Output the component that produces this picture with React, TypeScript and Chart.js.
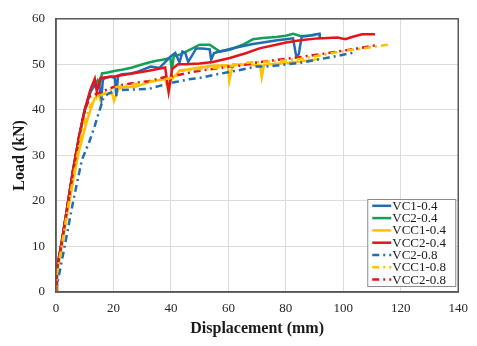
import React, { useEffect, useRef } from "react";
import { Chart, registerables } from "chart.js";

Chart.register(...registerables);

// ---- Data (displacement in mm, load in kN) ----
const seriesNames = ["VC1-0.4", "VC2-0.4", "VCC1-0.4", "VCC2-0.4", "VC2-0.8", "VCC1-0.8", "VCC2-0.8"];

const vc1_04_d = [0, 0.3, 2, 4, 6, 8, 10, 12, 13, 14, 15, 15.8, 16.3, 17, 19, 20.5, 21, 21.6, 23, 26, 28, 30, 33, 36, 38, 40, 41.5, 43, 44, 45, 46, 48.8, 51, 53.5, 54, 55, 57, 62, 68, 72, 77, 80, 82.5, 83.6, 84.5, 85.5, 88, 91.7, 91.8];
const vc1_04_l = [0, 5, 11, 19, 27, 34, 40, 44, 45, 45.5, 45.5, 42.6, 46.5, 47, 47.3, 47, 43, 47.5, 47.8, 48, 48.3, 48.8, 49.5, 49.2, 50.5, 51.8, 52.5, 50.4, 52.8, 52.5, 50.5, 53.5, 53.5, 53.3, 51, 52.5, 52.8, 53.6, 54.4, 54.8, 55.3, 55.5, 55.7, 51.8, 52.2, 56.1, 56.3, 56.7, 55.8];

const vc2_04_d = [0, 0.3, 2, 4, 6, 8, 10, 12, 13.5, 14.5, 15.2, 16, 18, 20.7, 23, 26.5, 29, 32.3, 35, 38, 39.8, 40.3, 41, 43, 46.5, 50, 53.5, 57, 60.5, 65, 68.5, 72, 76.6, 80, 82.5, 84.8, 87, 90.5];
const vc2_04_l = [0, 5, 11, 19, 27, 34, 40, 44, 45.5, 46.5, 45.5, 48, 48.2, 48.6, 48.8, 49.3, 49.8, 50.4, 50.8, 51.1, 51.5, 48.6, 51.8, 52.1, 53.2, 54.3, 54.3, 52.8, 53.2, 54.3, 55.5, 55.8, 56, 56.3, 56.7, 56.3, 56.2, 56.5];

const vcc1_04_d = [0, 0.3, 2, 4, 6, 8, 10.7, 12, 13.5, 15, 15.6, 16, 17, 19.5, 20.2, 21.8, 24, 27.5, 32.3, 38, 39.2, 40, 41.5, 43, 50, 54.6, 59.8, 60.3, 61.6, 66, 71, 71.6, 72.4, 76, 80, 85, 91.7];
const vcc1_04_l = [0, 4, 10, 17.5, 24.5, 31, 37.4, 40, 42.6, 43.3, 41.8, 43.6, 43.5, 43.6, 42, 44.7, 45, 45, 46.1, 46.8, 44, 46.5, 47.5, 48.6, 49.3, 49.7, 49.8, 46.4, 50, 49.9, 49.8, 47.2, 49.9, 50.1, 50.3, 50.6, 51.2];

const vcc2_04_d = [0, 0.3, 2, 4, 6, 8, 10, 12, 13.5, 14.2, 15.5, 20.7, 26.5, 32.3, 38, 39.2, 40.4, 42.5, 45, 50, 54.6, 60.5, 66.3, 70.8, 76.6, 80, 85, 91, 98, 100.7, 103, 106.5, 111];
const vcc2_04_l = [0, 5, 11, 19, 27, 34, 40, 44.5, 46.8, 44, 47, 47.4, 48, 48.6, 49.3, 44, 49, 50, 50, 50.2, 50.5, 51.4, 52.5, 53.5, 54.3, 54.8, 55.3, 55.7, 55.9, 55.5, 56, 56.6, 56.6];

const vc2_08_d = [0, 0.5, 3, 6, 9, 11.6, 13.5, 15, 16.5, 18, 20.7, 25, 32.3, 38, 41.5, 47, 50, 56, 62.7, 69.7, 73, 84.8, 95, 103, 104.5];
const vc2_08_l = [0, 2, 10, 20, 29, 33, 36.5, 39.6, 42.5, 43.5, 44.3, 44.4, 44.6, 45.6, 46.1, 46.8, 47, 47.8, 48.6, 49.5, 49.5, 50.3, 51.5, 52.5, 52.7];

const vcc1_08_d = [0, 0.3, 2, 4, 6, 8, 10, 12, 14, 16, 18, 20.7, 26, 32.3, 38, 41.5, 43, 50, 55, 60, 67.2, 77, 84.8, 95, 102, 110, 116.8];
const vcc1_08_l = [0, 4, 10, 18, 25, 32, 37.5, 41, 42.5, 43.3, 44, 45, 45.5, 46.1, 46.8, 47.2, 48.6, 49, 49.2, 49.5, 50.4, 50.7, 51.2, 52.3, 53.1, 53.8, 54.4];

const vcc2_08_d = [0, 0.3, 2, 4, 6, 8, 10, 12, 14, 16, 18, 20.7, 26, 32.3, 38, 41.5, 45, 50, 55, 60, 64, 69.7, 77, 84, 91.7, 100, 106, 111.5];
const vcc2_08_l = [0, 5, 11, 19, 27, 34, 40, 43, 43.5, 44, 44.5, 45.2, 45.8, 46.3, 47.2, 47.5, 48, 48.6, 49, 49.5, 49.7, 50.4, 51, 51.5, 52.2, 53, 53.6, 54.2];

const xTicks = [0, 20, 40, 60, 80, 100, 120, 140];
const yTicks = [0, 10, 20, 30, 40, 50, 60];

const BLUE = "#1f6db3";
const GREEN = "#13a055";
const YELLOW = "#ffc000";
const RED = "#e3141c";
const DASH = [7, 4, 2, 4];
const FONT = "'Liberation Serif', 'Times New Roman', serif";

const seriesDefs = [
  { d: vc1_04_d, l: vc1_04_l, color: BLUE, dash: [] as number[] },
  { d: vc2_04_d, l: vc2_04_l, color: GREEN, dash: [] as number[] },
  { d: vcc1_04_d, l: vcc1_04_l, color: YELLOW, dash: [] as number[] },
  { d: vcc2_04_d, l: vcc2_04_l, color: RED, dash: [] as number[] },
  { d: vc2_08_d, l: vc2_08_l, color: BLUE, dash: DASH },
  { d: vcc1_08_d, l: vcc1_08_l, color: YELLOW, dash: DASH },
  { d: vcc2_08_d, l: vcc2_08_l, color: RED, dash: DASH },
];

const frameLegendPlugin = {
  id: "frameLegend",
  afterDraw(chart: any) {
    const ctx = chart.ctx;
    const a = chart.chartArea;
    ctx.save();
    // plot frame
    ctx.strokeStyle = "#595959";
    ctx.lineWidth = 1.5;
    ctx.setLineDash([]);
    ctx.strokeRect(a.left, a.top, a.right - a.left, a.bottom - a.top);
    // legend box
    const w = 88;
    const h = 87;
    const lx = a.right - 91;
    const ly = a.bottom - 93;
    ctx.fillStyle = "#ffffff";
    ctx.fillRect(lx, ly, w, h);
    ctx.strokeStyle = "#8c8c8c";
    ctx.lineWidth = 1;
    ctx.strokeRect(lx + 0.5, ly + 0.5, w, h);
    ctx.font = `13px ${FONT}`;
    ctx.textBaseline = "middle";
    ctx.textAlign = "left";
    chart.data.datasets.forEach((ds: any, i: number) => {
      const cy = ly + 6.8 + i * 12.3;
      ctx.strokeStyle = ds.borderColor;
      ctx.lineWidth = 2.5;
      ctx.setLineDash(ds.borderDash || []);
      ctx.beginPath();
      ctx.moveTo(lx + 5, cy);
      ctx.lineTo(lx + 24, cy);
      ctx.stroke();
      ctx.setLineDash([]);
      ctx.fillStyle = "#1a1a1a";
      ctx.fillText(ds.label, lx + 25, cy + 0.5);
    });
    ctx.restore();
  },
};

export default function App() {
  const canvasRef = useRef<HTMLCanvasElement | null>(null);

  useEffect(() => {
    document.body.style.margin = "0";
    const canvas = canvasRef.current;
    if (!canvas) return;
    const datasets = seriesDefs.map((s, i) => ({
      label: seriesNames[i],
      data: s.d.map((x, k) => ({ x, y: s.l[k] })),
      borderColor: s.color,
      backgroundColor: s.color,
      borderWidth: 2.5,
      borderDash: s.dash,
      pointRadius: 0,
      tension: 0,
      fill: false,
    }));
    const drawOrder = [4, 5, 6, 2, 3, 0, 1];
    datasets.forEach((ds: any, i) => (ds.order = drawOrder[i]));

    const chart = new Chart(canvas, {
      type: "line",
      data: { datasets },
      plugins: [frameLegendPlugin],
      options: {
        responsive: false,
        animation: false,
        layout: { padding: { top: 11, right: 18, left: 0, bottom: 0 } },
        plugins: { legend: { display: false }, tooltip: { enabled: false } },
        scales: {
          x: {
            type: "linear",
            min: 0,
            max: 140,
            afterBuildTicks: (scale: any) => {
              scale.ticks = xTicks.map((v) => ({ value: v }));
            },
            afterFit: (scale: any) => {
              scale.height = 54;
            },
            grid: { color: "#dcdcdc", lineWidth: 1, drawTicks: false },
            border: { display: true, color: "#595959", width: 1.5 },
            ticks: { font: { family: FONT, size: 13 }, color: "#262626", padding: 9, maxRotation: 0 },
            title: {
              display: true,
              text: "Displacement (mm)",
              font: { family: FONT, size: 16, weight: "bold" },
              color: "#1a1a1a",
              padding: { top: 2, bottom: 8 },
            },
          },
          y: {
            type: "linear",
            min: 0,
            max: 60,
            afterBuildTicks: (scale: any) => {
              scale.ticks = yTicks.map((v) => ({ value: v }));
            },
            afterFit: (scale: any) => {
              scale.width = 56;
            },
            grid: { color: "#dcdcdc", lineWidth: 1, drawTicks: false },
            border: { display: true, color: "#595959", width: 1.5 },
            ticks: { font: { family: FONT, size: 13 }, color: "#262626", padding: 11 },
            title: {
              display: true,
              text: "Load (kN)",
              font: { family: FONT, size: 16, weight: "bold" },
              color: "#1a1a1a",
              padding: { top: 10, bottom: 0 },
            },
          },
        },
      } as any,
    });
    return () => chart.destroy();
  }, []);

  return (
    <div style={{ position: "fixed", left: 0, top: 0, width: 477, height: 346, background: "#fff" }}>
      <canvas ref={canvasRef} width={477} height={346} style={{ width: 477, height: 346, display: "block" }} />
    </div>
  );
}
